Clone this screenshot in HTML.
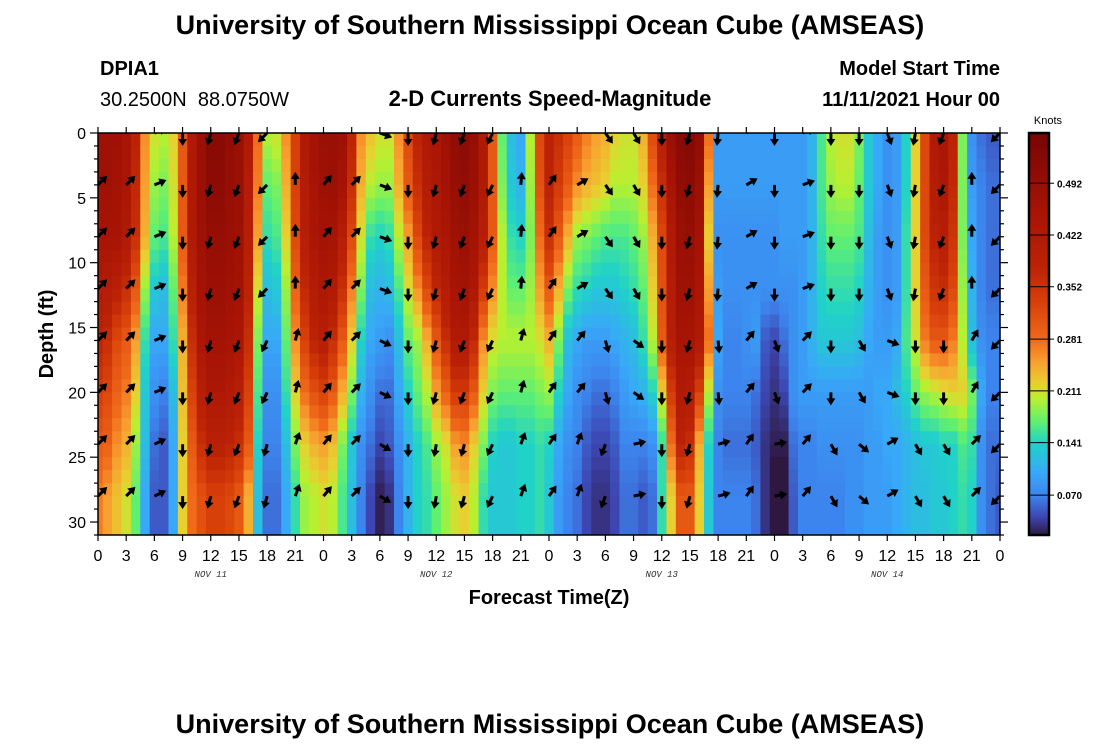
<!DOCTYPE html>
<html><head><meta charset="utf-8"><style>
html,body{margin:0;padding:0;background:#fff;}
body{width:1100px;height:750px;overflow:hidden;font-family:"Liberation Sans",sans-serif;}
</style></head><body>
<svg id="chart" width="1100" height="750" xmlns="http://www.w3.org/2000/svg" font-family="Liberation Sans, sans-serif">
<text x="550" y="34" text-anchor="middle" font-size="27" font-weight="bold">University of Southern Mississippi Ocean Cube (AMSEAS)</text>
<text x="100" y="75" font-size="20" font-weight="bold">DPIA1</text>
<text x="100" y="106" font-size="20">30.2500N&#160;&#160;88.0750W</text>
<text x="550" y="106" text-anchor="middle" font-size="22" font-weight="bold">2-D Currents Speed-Magnitude</text>
<text x="1000" y="75" text-anchor="end" font-size="20" font-weight="bold">Model Start Time</text>
<text x="1000" y="106" text-anchor="end" font-size="20" font-weight="bold">11/11/2021 Hour 00</text>
<text transform="translate(53,334) rotate(-90)" text-anchor="middle" font-size="20" font-weight="bold">Depth (ft)</text>
<text x="549" y="604" text-anchor="middle" font-size="20" font-weight="bold">Forecast Time(Z)</text>
<text x="550" y="733" text-anchor="middle" font-size="27" font-weight="bold">University of Southern Mississippi Ocean Cube (AMSEAS)</text>
<text x="1048" y="124" text-anchor="middle" font-size="11">Knots</text>
<defs><clipPath id="plotclip"><rect x="98" y="133" width="902" height="402"/></clipPath></defs>
<g id="cells" clip-path="url(#plotclip)"></g>
<g id="arrows" clip-path="url(#plotclip)"></g>
<g id="axes"></g>
<g id="cbar"></g>
</svg>
<script>
// ---- data ----
const hours = Array.from({length:97},(_,i)=>i);
const bandDepths = [0,4,8,12,16,20,24,28];
const speedD0 = [.47,.47,.47,.45,.38,.26,.21,.20,.22,.30,.42,.48,.52,.52,.50,.48,.42,.28,.20,.21,.26,.33,.42,.46,.48,
 .48,.47,.38,.26,.23,.21,.21,.26,.32,.38,.42,.44,.47,.50,.51,.49,.42,.30,.17,.12,.10,.20,.32,
 .38,.36,.33,.30,.27,.25,.24,.22,.21,.21,.24,.32,.40,.48,.52,.53,.50,.28,.09,.09,.09,.09,.09,.09,.09,
 .09,.09,.09,.11,.16,.20,.21,.21,.18,.13,.10,.08,.09,.14,.22,.32,.42,.44,.38,.18,.08,.06,.05,.05];
const speedD4 = [.47,.47,.46,.44,.37,.25,.19,.18,.21,.30,.42,.48,.51,.51,.49,.48,.41,.27,.17,.18,.24,.33,.41,.45,.47,
 .48,.46,.36,.24,.20,.19,.19,.24,.30,.36,.41,.43,.46,.49,.50,.48,.42,.30,.18,.13,.11,.19,.31,
 .38,.34,.30,.26,.24,.23,.22,.20,.20,.20,.22,.28,.36,.45,.50,.51,.48,.25,.09,.09,.09,.09,.09,.09,.09,
 .09,.09,.09,.11,.16,.19,.20,.20,.17,.13,.10,.08,.09,.14,.22,.32,.41,.43,.37,.18,.09,.07,.06,.06];
const speedD8 = [.45,.45,.45,.42,.36,.24,.17,.16,.20,.30,.42,.47,.49,.49,.48,.47,.40,.25,.15,.16,.22,.32,.40,.44,.46,
 .45,.40,.32,.21,.15,.14,.15,.20,.25,.32,.38,.42,.44,.47,.48,.46,.40,.30,.20,.15,.14,.18,.28,
 .36,.30,.24,.19,.18,.17,.16,.16,.16,.17,.19,.24,.32,.42,.48,.49,.46,.22,.08,.08,.08,.08,.08,.08,.08,
 .09,.09,.09,.11,.15,.17,.17,.17,.16,.12,.09,.08,.09,.15,.22,.32,.38,.40,.35,.18,.10,.07,.06,.06];
const speedD12 = [.42,.41,.39,.36,.30,.19,.13,.12,.17,.27,.39,.46,.48,.48,.47,.46,.38,.21,.12,.13,.19,.29,.37,.41,.43,
 .42,.36,.27,.18,.12,.11,.12,.16,.21,.26,.32,.37,.41,.45,.46,.43,.34,.26,.20,.17,.17,.19,.25,
 .30,.24,.18,.15,.14,.13,.13,.13,.14,.15,.17,.22,.31,.41,.47,.47,.44,.25,.09,.08,.08,.08,.08,.08,.08,
 .08,.08,.09,.11,.14,.15,.15,.15,.14,.11,.09,.08,.09,.15,.22,.30,.35,.36,.32,.19,.11,.07,.06,.06];
const speedD16 = [.38,.36,.32,.30,.25,.15,.10,.10,.15,.24,.36,.44,.46,.46,.45,.44,.36,.18,.10,.10,.17,.26,.33,.38,.40,
 .36,.30,.22,.14,.10,.09,.08,.12,.17,.19,.24,.30,.36,.42,.42,.37,.26,.21,.20,.20,.20,.20,.21,
 .24,.18,.12,.10,.09,.09,.09,.10,.11,.12,.15,.20,.30,.40,.45,.45,.42,.28,.10,.07,.07,.08,.09,.05,.04,
 .06,.08,.09,.11,.13,.13,.13,.13,.12,.10,.09,.09,.10,.16,.21,.27,.30,.30,.27,.20,.12,.08,.07,.07];
const speedD20 = [.34,.32,.29,.27,.22,.13,.08,.07,.12,.23,.33,.40,.43,.43,.42,.40,.33,.16,.08,.08,.15,.22,.28,.31,.33,
 .30,.24,.18,.11,.08,.06,.06,.10,.14,.17,.20,.25,.29,.34,.34,.30,.22,.18,.17,.17,.17,.17,.18,
 .19,.14,.10,.08,.07,.06,.06,.07,.09,.10,.11,.14,.22,.34,.42,.41,.33,.20,.08,.07,.07,.07,.06,.04,.03,
 .04,.08,.09,.09,.09,.09,.09,.09,.09,.09,.10,.10,.12,.14,.17,.19,.20,.21,.22,.22,.18,.10,.07,.07];
const speedD24 = [.30,.29,.26,.24,.19,.12,.06,.05,.10,.22,.30,.36,.39,.39,.38,.36,.30,.14,.07,.07,.12,.18,.22,.24,.25,
 .23,.18,.13,.08,.06,.04,.05,.08,.11,.14,.16,.19,.21,.25,.26,.22,.18,.14,.13,.13,.14,.14,.15,
 .14,.10,.08,.07,.05,.04,.04,.05,.07,.07,.07,.08,.15,.28,.38,.36,.24,.14,.07,.06,.06,.06,.05,.03,.02,
 .02,.06,.07,.07,.08,.08,.08,.08,.08,.09,.09,.10,.10,.11,.12,.13,.13,.14,.14,.16,.15,.08,.06,.06];
const speedD28 = [.27,.25,.23,.21,.17,.10,.05,.05,.10,.22,.28,.31,.33,.33,.32,.30,.24,.12,.06,.06,.10,.15,.19,.20,.21,
 .20,.16,.12,.07,.04,.02,.03,.07,.11,.14,.15,.17,.19,.21,.22,.20,.15,.13,.13,.13,.14,.14,.15,
 .13,.09,.07,.06,.04,.03,.03,.04,.06,.06,.05,.06,.15,.22,.30,.30,.22,.13,.07,.07,.07,.07,.06,.03,.01,
 .01,.05,.07,.07,.07,.07,.07,.08,.08,.09,.09,.09,.10,.11,.12,.12,.13,.13,.14,.15,.14,.08,.06,.05];
const arrowHours = [0,3,6,9,12,15,18,21,24,27,30,33,36,39,42,45,48,51,54,57,60,63,66,69,72,75,78,81,84,87,90,93,96];
const arrowDirUpper = [45,45,68,180,195,200,225,0,40,45,110,180,195,200,205,5,35,60,145,150,180,195,185,60,180,70,180,180,160,190,200,0,225];
const arrowDirMid = [45,45,68,180,195,200,205,15,40,45,115,180,195,200,205,15,35,40,165,125,180,195,175,40,160,45,180,150,110,180,180,30,225];
const arrowDirLower = [45,45,65,180,195,200,195,20,40,45,120,180,190,195,205,20,35,20,200,78,180,195,75,35,80,40,150,130,60,150,150,45,225];
const cbTicks = [0.070,0.141,0.211,0.281,0.352,0.422,0.492];
const yTicks = [0,5,10,15,20,25,30];
const xTickLabels = ["0","3","6","9","12","15","18","21","0","3","6","9","12","15","18","21","0","3","6","9","12","15","18","21","0","3","6","9","12","15","18","21","0"];
const dayLabels = ["NOV 11","NOV 12","NOV 13","NOV 14"];
const dayHours = [12,36,60,84];

const bands = [speedD0,speedD4,speedD8,speedD12,speedD16,speedD20,speedD24,speedD28];
const NS="http://www.w3.org/2000/svg";
const X0=98,X1=1000,Y0=133,Y1=535,HMAX=96,DMAX=31;
const xs=h=>X0+(X1-X0)*h/HMAX;
const ys=d=>Y0+(Y1-Y0)*d/DMAX;
const VMIN=0.016,VMAX=0.56;
const cbY=v=>Y1-(Y1-Y0)*(v-VMIN)/(VMAX-VMIN);
const stops=[[0.016,[46,24,64]],[0.04,[61,69,176]],[0.07,[61,133,238]],[0.10,[56,168,248]],[0.14,[32,210,200]],[0.17,[96,240,112]],[0.20,[184,240,48]],[0.22,[232,208,48]],[0.25,[248,160,48]],[0.28,[240,106,26]],[0.33,[216,64,10]],[0.38,[187,34,6]],[0.45,[168,20,5]],[0.56,[118,5,5]]];
function color(v){
  if(v<=stops[0][0])return `rgb(${stops[0][1]})`;
  for(let i=1;i<stops.length;i++){
    if(v<=stops[i][0]){const a=stops[i-1],b=stops[i],t=(v-a[0])/(b[0]-a[0]);
      return `rgb(${a[1].map((c,k)=>Math.round(c+(b[1][k]-c)*t)).join(',')})`;}
  }
  return `rgb(${stops[stops.length-1][1]})`;
}
function mk(tag,attrs,parent){const e=document.createElementNS(NS,tag);for(const k in attrs)e.setAttribute(k,attrs[k]);parent.appendChild(e);return e;}
const gc=document.getElementById('cells');
for(let r=0;r<DMAX;r++){
  const dc=r+0.5;
  const f=Math.min(7,dc/4);
  const b0=Math.min(7,Math.floor(f)),b1=Math.min(7,b0+1),t=f-b0;
  hours.forEach((h,i)=>{
    const v=bands[b0][i]*(1-t)+bands[b1][i]*t;
    const x=xs(h-0.5),w=xs(h+0.5)-x;
    const c=mk('rect',{x:x.toFixed(2),y:ys(r).toFixed(2),width:(w+0.6).toFixed(2),height:(ys(r+1)-ys(r)+0.6).toFixed(2),fill:color(v)},gc);
    
    
  });
}
const ga=document.getElementById('arrows');
bandDepths.forEach((bd,bi)=>{
  arrowHours.forEach((h,i)=>{
    const ang=bi>=6?arrowDirLower[i]:(bi>=4?arrowDirMid[i]:arrowDirUpper[i]);
    const cx=xs(h),cy=ys(bd);
    const g=mk('g',{transform:`translate(${cx.toFixed(1)},${cy.toFixed(1)}) rotate(${ang})`},ga);
    
    
    mk('line',{x1:0,y1:0,x2:0,y2:-7,stroke:'#000','stroke-width':3},g);
    mk('path',{d:'M-4.5,-6 L0,-13 L4.5,-6 Z',fill:'#000'},g);
  });
});
const ax=document.getElementById('axes');
const frame=mk('rect',{x:X0,y:Y0,width:X1-X0,height:Y1-Y0,fill:'none',stroke:'#000','stroke-width':1.5},ax);


xTickLabels.forEach((lab,i)=>{
  const x=xs(i*3);
  mk('line',{x1:x,y1:Y0,x2:x,y2:Y0-6,stroke:'#000','stroke-width':1.2},ax);
  mk('line',{x1:x,y1:Y1,x2:x,y2:Y1+6,stroke:'#000','stroke-width':1.2},ax);
  const t=mk('text',{x:x,y:Y1+26,'text-anchor':'middle','font-size':16},ax);
  t.textContent=lab;
  
  
});
dayLabels.forEach((lab,i)=>{
  const t=mk('text',{x:xs(dayHours[i]),y:Y1+42,'text-anchor':'middle','font-size':9,'font-style':'italic','font-family':'Liberation Mono, monospace',fill:'#333'},ax);
  t.textContent=lab;
  
  
});
for(let d=0;d<=DMAX;d++){
  const y=ys(d),L=d%5===0?8:4;
  mk('line',{x1:X0,y1:y,x2:X0-L,y2:y,stroke:'#000','stroke-width':1.2},ax);
  mk('line',{x1:X1,y1:y,x2:X1+L,y2:y,stroke:'#000','stroke-width':1.2},ax);
}
yTicks.forEach(v=>{
  const t=mk('text',{x:X0-12,y:ys(v)+6,'text-anchor':'end','font-size':16},ax);
  t.textContent=v;
  
  
});
const cb=document.getElementById('cbar');
const CBX=1029,CBW=20;
for(let y=Y0;y<Y1;y+=2){
  const v=VMIN+(VMAX-VMIN)*(Y1-y-1)/(Y1-Y0);
  mk('rect',{x:CBX,y:y,width:CBW,height:2.5,fill:color(v)},cb);
}
const cf=mk('rect',{x:CBX,y:Y0,width:CBW,height:Y1-Y0,fill:'none',stroke:'#000','stroke-width':2.5},cb);


cbTicks.forEach(v=>{
  const y=cbY(v);
  mk('line',{x1:CBX,y1:y,x2:CBX+CBW+5,y2:y,stroke:'#000','stroke-width':1},cb);
  const t=mk('text',{x:CBX+CBW+8,y:y+4,'font-size':10,'font-weight':'bold'},cb);
  t.textContent=v.toFixed(3);
  
  
});
</script>
</body></html>
